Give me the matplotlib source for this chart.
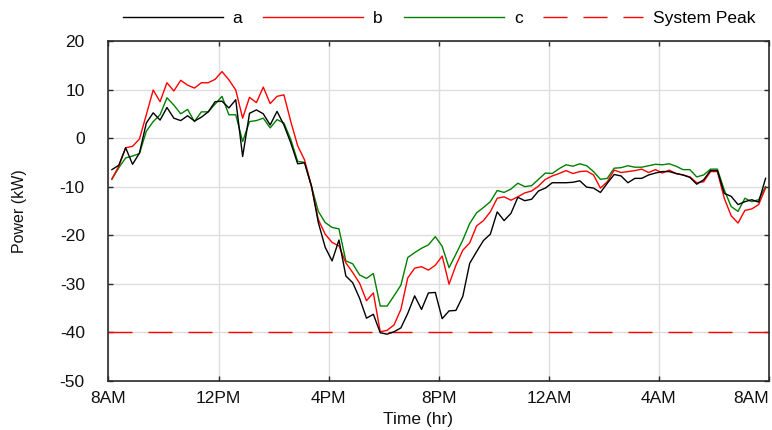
import numpy as np
import matplotlib
matplotlib.use("Agg")
import matplotlib.pyplot as plt

plt.rcParams['font.family'] = ['Liberation Sans', 'DejaVu Sans']
plt.rcParams['axes.unicode_minus'] = False

# Power readings every 15 minutes over one day, starting just after 8 AM
samples_per_hour = 4
n_samples = 96

power_a = [
    -6.5, -5.6, -2.0, -5.4, -3.1, 3.1, 5.2, 3.7, 6.3, 4.1, 3.6, 4.6, 3.5, 4.3, 5.4, 7.5,
    7.6, 6.2, 7.9, -3.8, 5.1, 5.8, 5.0, 2.7, 5.5, 2.7, -1.0, -5.3, -5.1, -9.9, -17.4, -22.5,
    -25.3, -21.0, -28.4, -29.8, -33.0, -37.1, -36.3, -40.1, -40.4, -39.9, -39.1, -36.1, -32.5, -35.3, -31.9, -31.8,
    -37.2, -35.6, -35.5, -32.6, -25.8, -23.4, -21.1, -19.8, -15.2, -17.0, -15.5, -12.2, -12.9, -12.6, -10.9, -10.3,
    -9.2, -9.2, -9.2, -9.1, -8.8, -10.1, -10.3, -11.2, -9.3, -7.5, -7.8, -9.2, -8.3, -8.3, -7.6, -7.2,
    -6.9, -6.9, -7.3, -7.6, -8.1, -9.5, -8.6, -6.7, -6.7, -11.4, -12.0, -13.7, -13.1, -12.7, -13.2, -8.3,
]

power_b = [
    -8.4, -5.8, -2.0, -1.7, -0.2, 4.8, 9.9, 7.5, 11.4, 9.7, 11.9, 10.9, 10.3, 11.4, 11.4, 12.1,
    13.7, 12.0, 9.9, 4.1, 8.4, 7.3, 10.5, 7.1, 8.6, 8.9, 3.4, -1.6, -4.5, -9.9, -16.8, -19.8,
    -21.5, -22.2, -25.7, -27.7, -29.9, -33.5, -31.9, -39.9, -39.6, -38.5, -35.3, -28.8, -26.8, -26.5, -27.2, -26.2,
    -24.3, -30.1, -26.2, -23.1, -21.6, -18.1, -17.0, -15.2, -12.4, -12.1, -12.8, -12.1, -11.3, -10.9, -9.9, -8.5,
    -7.8, -7.3, -6.7, -7.3, -6.9, -6.8, -7.6, -10.3, -9.0, -6.6, -7.1, -6.9, -6.7, -6.4, -7.1, -6.5,
    -7.2, -6.6, -7.3, -7.6, -8.0, -9.2, -9.0, -6.9, -6.9, -12.4, -16.0, -17.5, -14.9, -14.6, -13.7, -10.3,
]

power_c = [
    -8.5, -6.1, -4.1, -3.7, -3.2, 1.4, 3.4, 4.8, 8.3, 6.8, 5.0, 5.9, 3.4, 5.4, 5.4, 7.0,
    8.6, 4.8, 4.8, -0.7, 3.4, 3.6, 4.1, 2.1, 3.8, 3.1, -0.3, -4.8, -5.0, -9.9, -15.1, -17.4,
    -18.4, -18.7, -25.3, -25.9, -28.2, -28.9, -27.9, -34.6, -34.6, -32.5, -30.3, -24.6, -23.6, -22.7, -22.0, -20.3,
    -22.3, -26.7, -23.9, -21.0, -17.6, -15.4, -14.3, -13.1, -10.8, -11.2, -10.5, -9.3, -10.0, -9.8, -8.5, -7.2,
    -7.3, -6.3, -5.5, -5.8, -5.3, -5.7, -6.9, -8.5, -8.3, -6.2, -6.1, -5.7, -6.0, -6.0, -5.7, -5.4,
    -5.5, -5.3, -5.8, -6.5, -6.5, -8.0, -7.6, -6.4, -6.4, -10.7, -14.1, -15.1, -12.4, -13.1, -12.7, -10.0,
]

system_peak = -40.0

tick_hours = [0, 4, 8, 12, 16, 20, 24]
tick_labels = ['8AM', '12PM', '4PM', '8PM', '12AM', '4AM', '8AM']
y_ticks = [-50, -40, -30, -20, -10, 0, 10, 20]

# each reading is plotted at the middle of its 15-minute interval
hours = (np.arange(1, n_samples + 1) - 0.5) / samples_per_hour

fig = plt.figure(figsize=(7.72, 4.30), dpi=100)
ax = fig.add_axes([0.1405, 0.1144, 0.8556, 0.7903])

lw = 1.0
h_a, = ax.plot(hours, power_a, color='black', lw=lw, label='a', zorder=4)
h_b, = ax.plot(hours, power_b, color='#ff0000', lw=lw, label='b', zorder=3)
h_c, = ax.plot(hours, power_c, color='#008000', lw=lw, label='c', zorder=2)
h_p, = ax.plot([tick_hours[0], tick_hours[-1]], [system_peak, system_peak], color='#ff0000',
               lw=lw, dashes=(17.3, 11.5), label='System Peak', zorder=2)

ax.set_xlim(tick_hours[0], tick_hours[-1])
ax.set_ylim(-50, 20)
ax.set_xticks(tick_hours)
ax.set_xticklabels(tick_labels)
ax.set_yticks(y_ticks)
ax.get_xticklabels()[-1].set_horizontalalignment('right')

ax.grid(True, color='#dedede', lw=1.0)
ax.set_axisbelow(True)
for s in ax.spines.values():
    s.set_color('#2a2a2a')
    s.set_linewidth(1.2)
ax.tick_params(direction='in', length=3.5, width=1.0, color='#2a2a2a',
               top=True, right=True, labelsize=12.5, labelcolor='#111111')
ax.tick_params(axis='x', pad=7.5)
ax.tick_params(axis='y', pad=17)

xl = ax.set_xlabel('Time (hr)', fontsize=12.5, color='#111111')
xl.set_verticalalignment('center')
ax.xaxis.set_label_coords(0.4686, -0.115)
yl = ax.set_ylabel('Power (kW)', fontsize=11.5, color='#111111')
yl.set_verticalalignment('center')
ax.yaxis.set_label_coords(-0.134, 0.5)

fig.legend(handles=[h_a, h_b, h_c, h_p], loc='center', bbox_to_anchor=(0.569, 0.958),
           ncol=4, frameon=False, fontsize=12.5, handlelength=5.76, handletextpad=0.58,
           columnspacing=1.2)

fig.savefig('out.png', dpi=100)
